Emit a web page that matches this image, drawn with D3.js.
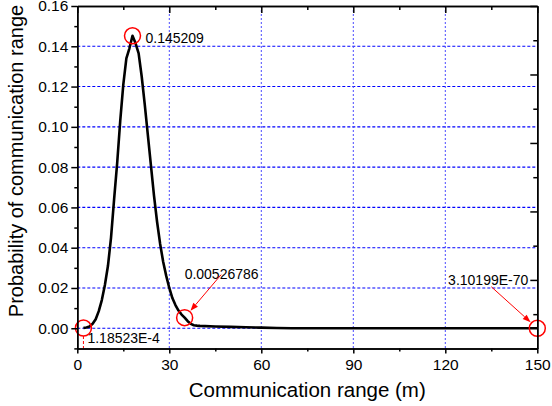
<!DOCTYPE html>
<html>
<head>
<meta charset="utf-8">
<script src="https://cdn.jsdelivr.net/npm/d3@7"></script>
<style>
  body { margin: 0; background: #fff; }
  svg { display: block; }
  text { font-family: "Liberation Sans", Arial, sans-serif; fill: #000; }
</style>
</head>
<body>
<svg id="chart" width="552" height="406"></svg>
<script>
// Communication range (m) and the probability of each range
const rangeM = [2, 3, 4, 5, 6, 7, 8, 9, 10, 11, 12, 13, 14, 15, 16, 17, 18, 19, 20,
  21, 22, 23, 24, 25, 26, 27, 28, 29, 30, 31, 32, 33, 34, 35, 36, 37, 38, 39,
  40, 45, 50, 55, 60, 65, 70, 80, 90, 100, 110, 120, 130, 140, 150];
const probability = [1.18523e-4, 0.0004, 0.0009, 0.0022, 0.0045, 0.0085, 0.014, 0.0215, 0.031,
  0.045, 0.064, 0.082, 0.103, 0.121, 0.134, 0.139, 0.145209, 0.1415, 0.1365,
  0.125, 0.111, 0.096, 0.081, 0.066, 0.053, 0.042, 0.033, 0.026, 0.020, 0.015,
  0.0115, 0.0088, 0.0068, 0.00526786, 0.0035, 0.0022, 0.0015, 0.0013,
  0.0012, 0.0009, 0.0007, 0.0005, 0.0003, 0.00012, 0.00003, 0.000005, 0, 0, 0, 0, 0, 0, 3.10199e-70];

// Annotated points
const markedX = [2, 18, 35, 150];
const markedY = [1.18523e-4, 0.145209, 0.00526786, 3.10199e-70];
const markedText = ["1.18523E-4", "0.145209", "0.00526786", "3.10199E-70"];

// Axis ticks
const xTicks = [0, 30, 60, 90, 120, 150];
const xMinorTicks = [15, 45, 75, 105, 135];
const yTicks = [0.00, 0.02, 0.04, 0.06, 0.08, 0.10, 0.12, 0.14, 0.16];
const yMinorTicks = [-0.01, 0.01, 0.03, 0.05, 0.07, 0.09, 0.11, 0.13, 0.15];
const yGrid = [0.00, 0.02, 0.04, 0.06, 0.08, 0.10, 0.12, 0.14];
const xGrid = [30, 60, 90, 120];

const svg = d3.select("#chart");
const L = 77.3, R = 537.3, T = 6, B = 348.4;

const x = d3.scaleLinear().domain([0, 150]).range([L, R]);
const y = d3.scaleLinear().domain([-0.01, 0.16]).range([B, T]);
const yRight = d3.scaleLinear().domain([0, 1]).range([B, T]);

// Grid lines
svg.append("g").selectAll("line").data(yGrid).join("line")
  .attr("x1", L).attr("x2", R)
  .attr("y1", d => y(d)).attr("y2", d => y(d))
  .attr("stroke", "#0000ff").attr("stroke-width", 1.1)
  .attr("stroke-dasharray", "3,2");
svg.append("g").selectAll("line").data(xGrid).join("line")
  .attr("x1", d => x(d)).attr("x2", d => x(d))
  .attr("y1", T).attr("y2", B)
  .attr("stroke", "#4a4aff").attr("stroke-width", 1)
  .attr("stroke-dasharray", "2,2");

// Probability curve
const pts = rangeM.map((r, i) => [r, probability[i]]);
svg.append("path")
  .datum(pts)
  .attr("fill", "none")
  .attr("stroke", "#000")
  .attr("stroke-width", 2.6)
  .attr("stroke-linejoin", "round")
  .attr("d", d3.line().x(d => x(d[0])).y(d => y(d[1])));

// Annotations
const red = "#ff0000";
const ann = svg.append("g");
const rad = 8;
function arrow(x1, y1, x2, y2) {
  const a = Math.atan2(y2 - y1, x2 - x1);
  const hl = 8, hw = 3;
  const bx = x2 - hl * Math.cos(a), by = y2 - hl * Math.sin(a);
  ann.append("line").attr("x1", x1).attr("y1", y1).attr("x2", bx).attr("y2", by)
    .attr("stroke", red).attr("stroke-width", 1);
  ann.append("path")
    .attr("d", `M${x2},${y2}L${bx + hw * Math.sin(a)},${by - hw * Math.cos(a)}L${bx - hw * Math.sin(a)},${by + hw * Math.cos(a)}Z`)
    .attr("fill", red);
}
markedX.forEach((mx, i) => {
  const cx = x(mx), cy = y(markedY[i]);
  ann.append("circle").attr("cx", cx).attr("cy", cy).attr("r", rad)
    .attr("fill", "none").attr("stroke", red).attr("stroke-width", 1.5);
  const t = ann.append("text").attr("font-size", 14).text(markedText[i]);
  if (i === 0) {
    ann.append("line").attr("x1", cx).attr("x2", cx).attr("y1", cy + rad).attr("y2", B)
      .attr("stroke", red).attr("stroke-width", 1).attr("stroke-dasharray", "3,2");
    t.attr("x", cx + 4).attr("y", cy + 15);
  } else if (i === 1) {
    t.attr("x", cx + 13).attr("y", cy + 7);
  } else if (i === 2) {
    t.attr("x", cx).attr("y", cy - 39);
    const sx = cx + 36.5, sy = cy - 43;
    const a = Math.atan2(cy - sy, cx - sx);
    arrow(sx, sy, cx - (rad + 1) * Math.cos(a), cy - (rad + 1) * Math.sin(a));
  } else {
    t.attr("x", cx - 9).attr("y", cy - 43).attr("text-anchor", "end");
    const sx = cx - 46, sy = cy - 41.5;
    const a = Math.atan2(cy - sy, cx - sx);
    arrow(sx, sy, cx - (rad + 1) * Math.cos(a), cy - (rad + 1) * Math.sin(a));
  }
});

// Axes
function styleAxis(g) {
  g.selectAll("path, line").attr("stroke", "#000").attr("stroke-width", 1.5);
  g.selectAll("text").attr("font-size", 15.5).attr("font-family", "\"Liberation Sans\", Arial, sans-serif");
}
const fmt = d3.format(".2f");

svg.append("g").attr("transform", `translate(0,${B})`)
  .call(d3.axisBottom(x).tickValues(xTicks).tickSize(5).tickSizeOuter(0).tickPadding(6))
  .call(styleAxis);
svg.append("g").attr("transform", `translate(0,${B})`)
  .call(d3.axisBottom(x).tickValues(xMinorTicks).tickSize(3).tickSizeOuter(0).tickFormat(""))
  .call(styleAxis);

svg.append("g").attr("transform", `translate(${L},0)`)
  .call(d3.axisLeft(y).tickValues(yTicks).tickFormat(fmt).tickSize(6).tickSizeOuter(0).tickPadding(3))
  .call(styleAxis);
svg.append("g").attr("transform", `translate(${L},0)`)
  .call(d3.axisLeft(y).tickValues(yMinorTicks).tickSize(3).tickSizeOuter(0).tickFormat(""))
  .call(styleAxis);

svg.append("g").attr("transform", `translate(0,${T})`)
  .call(d3.axisTop(x).tickValues(xTicks).tickSize(-7).tickSizeOuter(0).tickFormat(""))
  .call(styleAxis);
svg.append("g").attr("transform", `translate(0,${T})`)
  .call(d3.axisTop(x).tickValues(xMinorTicks).tickSize(-4).tickSizeOuter(0).tickFormat(""))
  .call(styleAxis);

svg.append("g").attr("transform", `translate(${R},0)`)
  .call(d3.axisRight(yRight).tickValues(d3.range(0, 1.0001, 0.2)).tickSize(-7).tickSizeOuter(0).tickFormat(""))
  .call(styleAxis);
svg.append("g").attr("transform", `translate(${R},0)`)
  .call(d3.axisRight(yRight).tickValues(d3.range(0.1, 1, 0.2)).tickSize(-4).tickSizeOuter(0).tickFormat(""))
  .call(styleAxis);

// Axis titles
svg.append("text")
  .attr("x", (L + R) / 2).attr("y", 397)
  .attr("text-anchor", "middle").attr("font-size", 20.5)
  .text("Communication range (m)");
svg.append("text")
  .attr("transform", "translate(23,161) rotate(-90)")
  .attr("text-anchor", "middle").attr("font-size", 20)
  .text("Probability of communication range");
</script>
</body>
</html>
